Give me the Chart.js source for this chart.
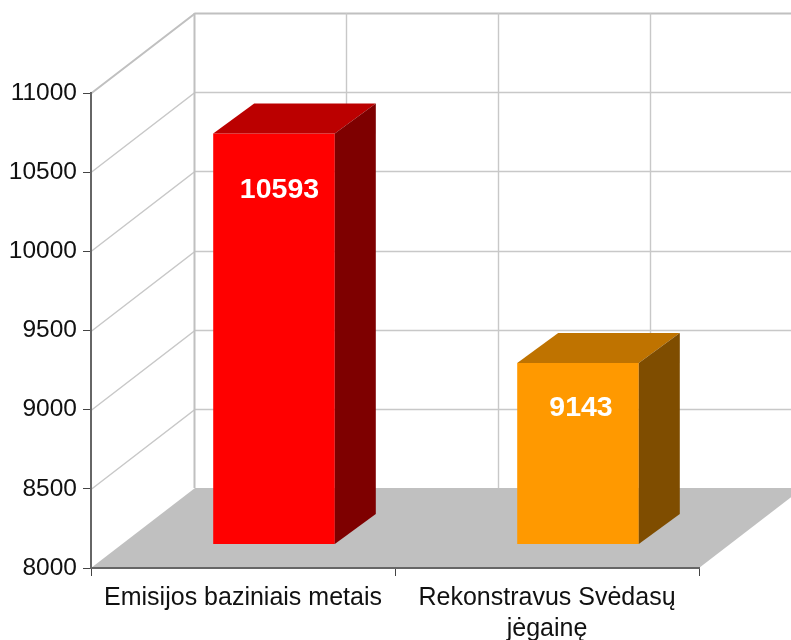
<!DOCTYPE html>
<html>
<head>
<meta charset="utf-8">
<style>html,body{margin:0;padding:0;background:#fff}canvas{display:block}</style>
<script src="https://cdn.jsdelivr.net/npm/chart.js@4"></script>
</head>
<body>
<canvas id="c" width="791" height="640"></canvas>
<script>
const categories = [["Emisijos baziniais metais"], ["Rekonstravus Svėdasų", "jėgainę"]];
const values = [10593, 9143];
const frontColors = ["#FF0000", "#FF9900"];
const topColors = ["#BB0000", "#BF7300"];
const sideColors = ["#7E0000", "#7F4D00"];
const yMin = 8000, yMax = 11000, yStep = 500;

// 3D projection
const wallDX = 104, wallDY = -80;
const barDX = 31, barDY = -24;
const depthDX = 41, depthDY = -30;
const labelDrop = [57, 45], labelShift = [5.5, 3];

const plugin3d = {
  id: "plugin3d",
  beforeDraw(chart) {
    const { ctx, chartArea: a, scales: { y } } = chart;
    ctx.save();
    ctx.fillStyle = "#fff";
    ctx.fillRect(0, 0, chart.width, chart.height);
    // floor
    ctx.fillStyle = "#C0C0C0";
    ctx.beginPath();
    ctx.moveTo(a.left, a.bottom);
    ctx.lineTo(a.left + wallDX, a.bottom + wallDY);
    ctx.lineTo(a.right + wallDX, a.bottom + wallDY);
    ctx.lineTo(a.right, a.bottom);
    ctx.closePath();
    ctx.fill();
    // horizontal grid on side + back walls
    for (let v = yMin + yStep; v <= yMax; v += yStep) {
      const py = Math.round(y.getPixelForValue(v)) + 0.5;
      const top = v === yMax;
      ctx.strokeStyle = top ? "#C0C0C0" : "#C8C8C8";
      ctx.lineWidth = top ? 2 : 1.4;
      ctx.beginPath();
      ctx.moveTo(a.left, py);
      ctx.lineTo(a.left + wallDX, py + wallDY);
      ctx.lineTo(a.right + wallDX, py + wallDY);
      ctx.stroke();
    }
    // vertical grid on back wall
    const yTop = y.getPixelForValue(yMax) + wallDY;
    const yBot = a.bottom + wallDY;
    for (let k = 0; k < 4; k++) {
      const px = Math.round(a.left + k * a.width / 4 + wallDX) - 0.5;
      ctx.strokeStyle = k === 0 ? "#C0C0C0" : "#C8C8C8";
      ctx.lineWidth = k === 0 ? 2 : 1.4;
      ctx.beginPath();
      ctx.moveTo(px, yTop);
      ctx.lineTo(px, yBot);
      ctx.stroke();
    }
    ctx.restore();
  },
  beforeDatasetsDraw(chart) {
    chart.ctx.save();
    chart.ctx.translate(barDX, barDY);
  },
  afterDatasetsDraw(chart) {
    const ctx = chart.ctx;
    chart.getDatasetMeta(0).data.forEach((bar, i) => {
      const { x, y, base, width } = bar.getProps(["x", "y", "base", "width"], true);
      const l = x - width / 2, r = x + width / 2;
      ctx.fillStyle = topColors[i];
      ctx.beginPath();
      ctx.moveTo(l, y);
      ctx.lineTo(l + depthDX, y + depthDY);
      ctx.lineTo(r + depthDX, y + depthDY);
      ctx.lineTo(r, y);
      ctx.closePath();
      ctx.fill();
      ctx.fillStyle = sideColors[i];
      ctx.beginPath();
      ctx.moveTo(r, y);
      ctx.lineTo(r + depthDX, y + depthDY);
      ctx.lineTo(r + depthDX, base + depthDY);
      ctx.lineTo(r, base);
      ctx.closePath();
      ctx.fill();
      ctx.fillStyle = "#fff";
      ctx.font = "bold 28.5px 'Liberation Sans'";
      ctx.textAlign = "center";
      ctx.textBaseline = "middle";
      ctx.fillText(String(values[i]), x + labelShift[i], y + labelDrop[i]);
    });
    ctx.restore();
  }
};

new Chart(document.getElementById("c"), {
  type: "bar",
  data: {
    labels: categories,
    datasets: [{
      data: values.map(v => [yMin, v]),
      backgroundColor: frontColors,
      borderWidth: 0,
      barPercentage: 0.4,
      categoryPercentage: 1,
      clip: false
    }]
  },
  options: {
    responsive: false,
    animation: false,
    layout: { autoPadding: false, padding: { top: 93, right: 92, left: 0, bottom: 0 } },
    plugins: { legend: { display: false }, tooltip: { enabled: false }, title: { display: false } },
    scales: {
      x: {
        offset: true,
        afterFit(s) { s.height = 72; },
        border: { color: "#666666", width: 2 },
        grid: { drawOnChartArea: false, color: "#444", tickLength: 8, offset: true },
        ticks: { color: "#111", font: { family: "'Liberation Sans'", size: 25, lineHeight: 1.25 }, padding: 6, maxRotation: 0, autoSkip: false }
      },
      y: {
        min: yMin,
        max: yMax,
        afterFit(s) { s.width = 91; },
        border: { color: "#666666", width: 2 },
        grid: { drawOnChartArea: false, color: "#444", tickLength: 8 },
        ticks: { stepSize: yStep, color: "#111", font: { family: "'Liberation Sans'", size: 24.5 }, padding: 6, callback: v => String(v) }
      }
    }
  },
  plugins: [plugin3d]
});
</script>
</body>
</html>
